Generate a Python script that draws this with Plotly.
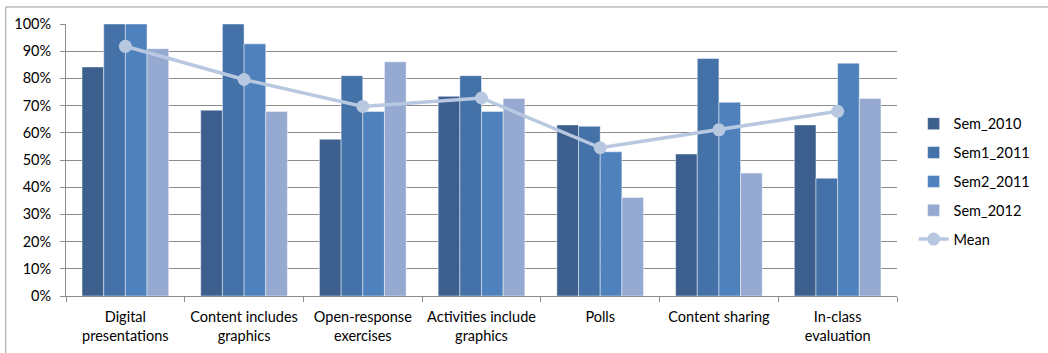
import plotly.graph_objects as go

categories = ["Digital<br>presentations", "Content includes<br>graphics", "Open-response<br>exercises",
              "Activities include<br>graphics", "Polls", "Content sharing", "In-class<br>evaluation"]
sem_2010 = [84.2, 68.3, 57.6, 73.4, 62.9, 52.2, 62.9]
sem1_2011 = [100, 100, 81.0, 81.0, 62.4, 87.3, 43.3]
sem2_2011 = [100, 92.7, 67.8, 67.8, 53.0, 71.2, 85.6]
sem_2012 = [90.9, 67.8, 86.1, 72.6, 36.2, 45.2, 72.6]
mean = [91.8, 79.6, 69.7, 72.8, 54.5, 61.1, 67.9]

series = [("Sem_2010", sem_2010, "#3C5F8E"),
          ("Sem1_2011", sem1_2011, "#4472A8"),
          ("Sem2_2011", sem2_2011, "#4F81BD"),
          ("Sem_2012", sem_2012, "#95A9D1")]

fig = go.Figure()
for i, (name, vals, col) in enumerate(series):
    fig.add_trace(go.Bar(name=name, x=categories, y=vals, marker_color=col,
                         marker_line=dict(color="rgba(255,255,255,0.45)", width=1),
                         legendgroup=f"g{i}"))
fig.add_trace(go.Scatter(name="Mean", x=categories, y=mean, mode="lines+markers",
                         line=dict(color="#B9C8E1", width=3.5),
                         marker=dict(color="#B9C8E1", size=13), legendgroup="g4"))

fig.update_layout(
    width=1048, height=353,
    margin=dict(l=66, r=148, t=24, b=57),
    barmode="group", bargap=0.27, bargroupgap=0,
    plot_bgcolor="white", paper_bgcolor="white",
    font=dict(family="Lato, Open Sans, sans-serif", size=14.5, color="#000000"),
    legend=dict(x=1.02, y=0.42, yanchor="middle", xanchor="left",
                tracegroupgap=7, font=dict(size=14.5), itemwidth=30,
                bgcolor="rgba(0,0,0,0)"),
    showlegend=True,
)
fig.update_yaxes(range=[0, 100], dtick=10, ticksuffix="%", showgrid=True,
                 gridcolor="#8C8C8C", gridwidth=1, showline=True, linecolor="#8C8C8C",
                 ticks="outside", ticklen=5, tickcolor="#8C8C8C", zeroline=False,
                 tickfont=dict(size=14.5), ticklabelstandoff=6, automargin=False)
fig.update_xaxes(showline=True, linecolor="#8C8C8C", ticks="outside", tickson="boundaries",
                 ticklen=5, tickcolor="#8C8C8C", tickfont=dict(size=14.5), tickangle=0,
                 ticklabelstandoff=8, automargin=False)

fig.add_shape(type="rect", xref="paper", yref="paper",
              x0=-0.0725, x1=1.3, y0=-0.4, y1=1.0626,
              line=dict(color="#9A9A9A", width=1), fillcolor="rgba(0,0,0,0)", layer="below")

fig.write_html("out.html")
